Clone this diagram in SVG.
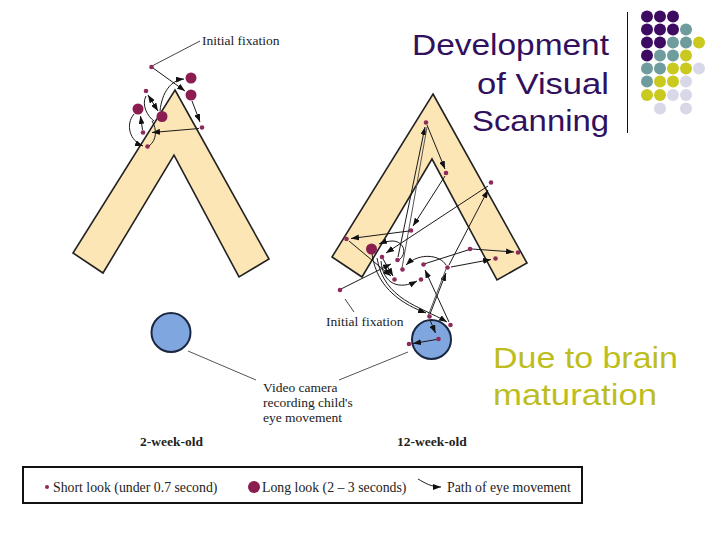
<svg xmlns="http://www.w3.org/2000/svg" width="720" height="540" viewBox="0 0 720 540">
<defs>
<style>
.chev{fill:#fde6b6;stroke:#222;stroke-width:1.6;stroke-linejoin:miter}
.cam{fill:#7fa6de;stroke:#1b2740;stroke-width:2}
.sd{fill:#8e2a5c}
.bd{fill:#8b1d50}
.c{fill:none;stroke:#1a1a1a;stroke-width:1;marker-end:url(#ah)}
.cn{fill:none;stroke:#1a1a1a;stroke-width:1}
.cg{fill:none;stroke:#555;stroke-width:1}
.cd{fill:none;stroke:#1a1a1a;stroke-width:1;marker-end:url(#ah);marker-start:url(#ah)}
.ld{fill:none;stroke:#444;stroke-width:1}
.lbl{font-family:"Liberation Serif","Times New Roman",serif;font-size:13.5px;fill:#222}
.lg{font-size:13.8px}
.bold{font-weight:bold}
.title{font-family:"Liberation Sans",Arial,sans-serif;font-size:29px;fill:#31105e}
.yel{font-family:"Liberation Sans",Arial,sans-serif;font-size:29px;fill:#bdbd1e}
.p{fill:#3d0b62}.t{fill:#6f9d9d}.y{fill:#c9c91f}.l{fill:#d8d8e8}
</style>
<marker id="ah" viewBox="0 0 8 6" refX="8" refY="3" markerWidth="8" markerHeight="6" markerUnits="userSpaceOnUse" orient="auto-start-reverse"><path d="M0,0 L8,3 L0,6 z" fill="#111"/></marker>
</defs>
<rect width="720" height="540" fill="#fff"/>

<g id="title">
<text class="title" x="412" y="55" textLength="197" lengthAdjust="spacingAndGlyphs">Development</text>
<text class="title" x="477" y="94" textLength="132" lengthAdjust="spacingAndGlyphs">of Visual</text>
<text class="title" x="472" y="131" textLength="137" lengthAdjust="spacingAndGlyphs">Scanning</text>
<line x1="627.5" y1="12" x2="627.5" y2="133" stroke="#111" stroke-width="1"/>
</g>

<g id="dot-grid">
<circle class="p" cx="647" cy="16.5" r="6"/><circle class="p" cx="660" cy="16.5" r="6"/><circle class="p" cx="673" cy="16.5" r="6"/>
<circle class="p" cx="647" cy="29.5" r="6"/><circle class="p" cx="660" cy="29.5" r="6"/><circle class="p" cx="673" cy="29.5" r="6"/><circle class="t" cx="686" cy="29.5" r="6"/>
<circle class="p" cx="647" cy="42.5" r="6"/><circle class="p" cx="660" cy="42.5" r="6"/><circle class="t" cx="673" cy="42.5" r="6"/><circle class="t" cx="686" cy="42.5" r="6"/><circle class="y" cx="699" cy="42.5" r="6"/>
<circle class="p" cx="647" cy="55.5" r="6"/><circle class="t" cx="660" cy="55.5" r="6"/><circle class="t" cx="673" cy="55.5" r="6"/><circle class="y" cx="686" cy="55.5" r="6"/>
<circle class="t" cx="647" cy="68.5" r="6"/><circle class="t" cx="660" cy="68.5" r="6"/><circle class="y" cx="673" cy="68.5" r="6"/><circle class="y" cx="686" cy="68.5" r="6"/><circle class="l" cx="699" cy="68.5" r="6"/>
<circle class="t" cx="647" cy="81.5" r="6"/><circle class="y" cx="660" cy="81.5" r="6"/><circle class="y" cx="673" cy="81.5" r="6"/><circle class="l" cx="686" cy="81.5" r="6"/>
<circle class="y" cx="647" cy="95" r="6"/><circle class="y" cx="660" cy="95" r="6"/><circle class="l" cx="673" cy="95" r="6"/><circle class="l" cx="686" cy="95" r="6"/>
<circle class="l" cx="660" cy="108.5" r="6"/><circle class="l" cx="686" cy="108.5" r="6"/>
</g>

<g id="chevron-left"><polygon class="chev" points="175,90 269,259 239,277 174,155 103,273 73,253"/></g>
<g id="chevron-right"><polygon class="chev" points="433,94 527,263 497,280 432,159 362,277 332,257"/></g>
<g id="camera-left"><circle class="cam" cx="171" cy="332.5" r="19.5"/></g>
<g id="camera-right"><circle class="cam" cx="431.5" cy="339.5" r="19.5"/></g>

<g id="connectors">
<line class="ld" x1="200" y1="41" x2="153" y2="65.5"/>
<line class="ld" x1="345" y1="299" x2="354" y2="312"/>
<line class="cg" x1="188" y1="351" x2="256" y2="380"/>
<line class="cg" x1="339" y1="380" x2="408" y2="352"/>
<line class="c" x1="153" y1="68" x2="185" y2="91"/>
<path class="c" d="M160,111 C162,92 171,80 184,79"/>
<line class="c" x1="192" y1="101" x2="200" y2="122"/>
<line class="c" x1="199" y1="128.5" x2="152" y2="132.5"/>
<line class="cd" x1="148" y1="95" x2="158" y2="111"/>
<path class="cn" d="M146,96 C141,105 148,117 154,121"/>
<line class="c" x1="142.5" y1="130" x2="140.5" y2="116"/>
<path class="c" d="M134,114 C125,125 130,141 143,146"/>
<path class="cn" d="M149,146 C157,140 157,129 152,121"/>
<line class="c" x1="398" y1="257" x2="425" y2="127"/>
<line class="cg" x1="402" y1="268" x2="427" y2="127"/>
<line class="c" x1="427" y1="125" x2="445" y2="169"/>
<line class="c" x1="445" y1="176" x2="413" y2="226"/>
<line class="c" x1="409" y1="231" x2="351" y2="238.5"/>
<line class="c" x1="349" y1="241" x2="391" y2="276"/>
<line class="c" x1="341" y1="289" x2="391" y2="264"/>
<line class="c" x1="449" y1="265" x2="488" y2="190"/>
<line class="c" x1="488" y1="186" x2="386" y2="253"/>
<line class="c" x1="472" y1="249" x2="514" y2="252"/>
<line class="c" x1="451" y1="267" x2="491" y2="259.5"/>
<line class="cn" x1="424" y1="264" x2="468" y2="250"/>
<path class="c" d="M372,254 C377,290 405,305 426,313"/>
<path class="c" d="M377,258 C384,300 420,306 447,322"/>
<line class="c" x1="430" y1="314" x2="446" y2="273"/>
<line class="c" x1="449" y1="322" x2="425" y2="270"/>
<line class="cg" x1="428" y1="316" x2="446" y2="269"/>
<path class="c" d="M399,260 C407,254 405,242 393,241 C388,241 384,242 379,244"/>
<path class="c" d="M446,265 C440,255 420,252 406,265"/>
<path class="c" d="M381,261 C383,285 400,290 417,281"/>
<line class="c" x1="383" y1="259" x2="393" y2="276"/>
<line class="c" x1="430" y1="320" x2="435.5" y2="333"/>
<line class="c" x1="436.5" y1="339.5" x2="413" y2="343.5"/>
</g>

<g id="fixations-left">
<circle class="sd" cx="151.5" cy="67" r="2.3"/>
<circle class="bd" cx="191" cy="78" r="5.5"/>
<circle class="bd" cx="191" cy="95" r="5.5"/>
<circle class="sd" cx="202" cy="127.5" r="2.3"/>
<circle class="sd" cx="146" cy="91" r="2.3"/>
<circle class="bd" cx="162" cy="116.5" r="5.5"/>
<circle class="bd" cx="138" cy="109" r="5.5"/>
<circle class="sd" cx="143" cy="132.5" r="2.3"/>
<circle class="sd" cx="147.5" cy="146.5" r="2.3"/>
</g>

<g id="fixations-right">
<circle class="sd" cx="426" cy="122.5" r="2.3"/>
<circle class="sd" cx="446" cy="173" r="2.3"/>
<circle class="sd" cx="491" cy="182.5" r="2.3"/>
<circle class="sd" cx="411" cy="230.5" r="2.3"/>
<circle class="sd" cx="346.5" cy="239" r="2.3"/>
<circle class="bd" cx="371.5" cy="249" r="5.5"/>
<circle class="sd" cx="470" cy="249" r="2.3"/>
<circle class="sd" cx="518" cy="252.5" r="2.3"/>
<circle class="sd" cx="495.5" cy="258.5" r="2.3"/>
<circle class="sd" cx="382" cy="257" r="2.3"/>
<circle class="sd" cx="397.5" cy="260" r="2.3"/>
<circle class="sd" cx="423.5" cy="264.5" r="2.3"/>
<circle class="sd" cx="402.5" cy="269.5" r="2.3"/>
<circle class="sd" cx="447.5" cy="267.5" r="2.3"/>
<circle class="sd" cx="394.5" cy="279.5" r="2.3"/>
<circle class="sd" cx="421" cy="279.5" r="2.3"/>
<circle class="sd" cx="340" cy="290" r="2.3"/>
<circle class="sd" cx="429.5" cy="316.5" r="2.3"/>
<circle class="sd" cx="450.5" cy="325" r="2.3"/>
<circle class="sd" cx="438.5" cy="339" r="2.3"/>
<circle class="sd" cx="409" cy="344" r="2.3"/>
</g>

<g id="labels">
<text class="lbl" x="202" y="45">Initial fixation</text>
<text class="lbl" x="326" y="326">Initial fixation</text>
<text class="lbl" x="263" y="392">Video camera</text>
<text class="lbl" x="263" y="407">recording child's</text>
<text class="lbl" x="263" y="421.5">eye movement</text>
<text class="lbl bold" x="140" y="446">2-week-old</text>
<text class="lbl bold" x="397" y="446">12-week-old</text>
</g>

<g id="note">
<text class="yel" x="493" y="368" textLength="185" lengthAdjust="spacingAndGlyphs">Due to brain</text>
<text class="yel" x="493" y="405" textLength="164" lengthAdjust="spacingAndGlyphs">maturation</text>
</g>

<g id="legend">
<rect x="23" y="467" width="559" height="36" fill="#fff" stroke="#111" stroke-width="2"/>
<circle class="sd" cx="47" cy="487" r="2"/>
<text class="lbl lg" x="53" y="491.5">Short look (under 0.7 second)</text>
<circle class="bd" cx="254" cy="487" r="6"/>
<text class="lbl lg" x="262" y="491.5">Long look (2 – 3 seconds)</text>
<path class="c" d="M418,479 C425,483 431,487 441,487"/>
<text class="lbl lg" x="447" y="491.5">Path of eye movement</text>
</g>
</svg>
